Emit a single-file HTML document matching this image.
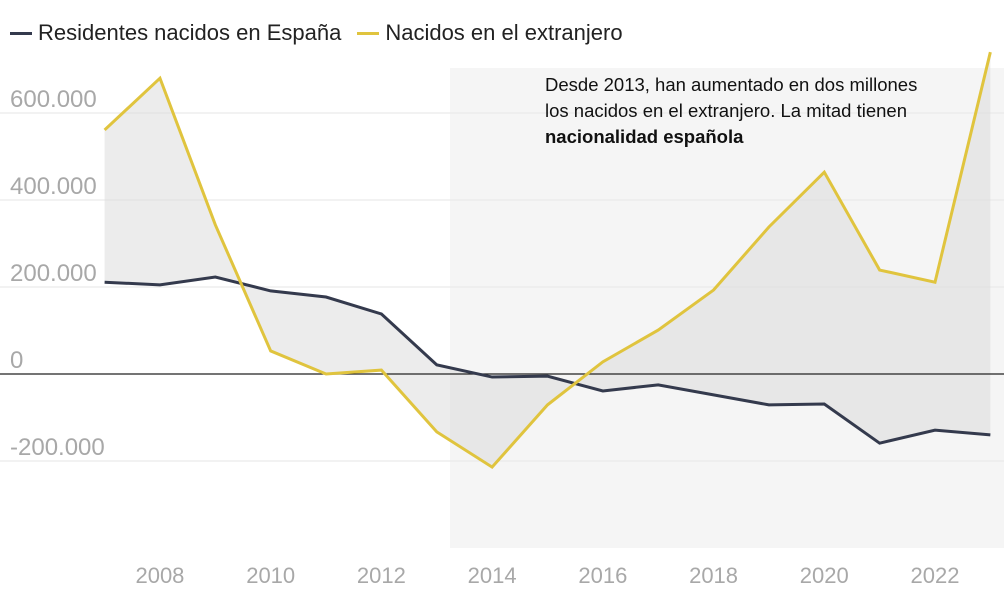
<!DOCTYPE html>
<html><head><meta charset="utf-8"><style>
body{margin:0;background:#fff;font-family:"Liberation Sans",sans-serif}
svg{display:block}
</style></head><body>
<svg id="c" width="1004" height="602"></svg>
<script>
const years=[2007,2008,2009,2010,2011,2012,2013,2014,2015,2016,2017,2018,2019,2020,2021,2022,2023];
const residents=[211000,205000,223000,191000,177000,138000,21000,-7000,-5000,-39000,-25000,-48000,-71000,-69000,-159000,-129000,-140000];
const foreign=[561000,680000,343000,53000,0,9000,-133000,-214000,-71000,28000,101000,193000,338000,464000,239000,211000,740000];
const yTicks=[-200000,0,200000,400000,600000];
const yLabels=["-200.000","0","200.000","400.000","600.000"];
const xTicks=[2008,2010,2012,2014,2016,2018,2020,2022];
const NS="http://www.w3.org/2000/svg";
const svg=document.getElementById('c');
const x=v=>104.6+(v-2007)*55.36;
const y=v=>374-v*0.000435;
function mk(t,a,p){const e=document.createElementNS(NS,t);for(const k in a)e.setAttribute(k,a[k]);(p||svg).appendChild(e);return e;}
let r=mk('rect',{x:450,y:68,width:554,height:480,fill:'#f5f5f5'});


yTicks.forEach((t,i)=>{
  if(t!==0){let l=mk('line',{x1:0,x2:1004,y1:y(t),y2:y(t),stroke:'#e6e6e6','stroke-width':1});
  
  }
  let tx=mk('text',{x:10,y:y(t)-6,fill:'#a8a8a8','font-size':24});tx.textContent=yLabels[i];
  
  
});
xTicks.forEach(t=>{let tx=mk('text',{x:x(t),y:583,fill:'#a8a8a8','font-size':22,'text-anchor':'middle'});tx.textContent=t;
  
  });
let pts=years.map((v,i)=>x(v)+','+y(foreign[i])).concat(years.map((v,i)=>x(v)+','+y(residents[i])).reverse());
let area=mk('polygon',{points:pts.join(' '),fill:'#d9d9d9','fill-opacity':0.5});


let zl=mk('line',{x1:0,x2:1004,y1:y(0),y2:y(0),stroke:'#222','stroke-width':1.3});


let l1=mk('polyline',{points:years.map((v,i)=>x(v)+','+y(residents[i])).join(' '),fill:'none',stroke:'#343a4d','stroke-width':3});


let l2=mk('polyline',{points:years.map((v,i)=>x(v)+','+y(foreign[i])).join(' '),fill:'none',stroke:'#e0c43e','stroke-width':3});


</script>
<div style="position:absolute;left:10px;top:20px;font-size:22px;color:#222;display:flex;align-items:center">
<span style="display:inline-block;width:22px;height:3px;background:#343a4d;margin-right:6px"></span><span>Residentes nacidos en España</span>
<span style="display:inline-block;width:22px;height:3px;background:#e0c43e;margin:0 6px 0 16px"></span><span>Nacidos en el extranjero</span>
</div>
<div style="position:absolute;left:545px;top:72px;font-size:18.5px;line-height:26px;color:#111;width:395px">Desde 2013, han aumentado en dos millones los nacidos en el extranjero. La mitad tienen <b>nacionalidad española</b></div>
</body></html>
